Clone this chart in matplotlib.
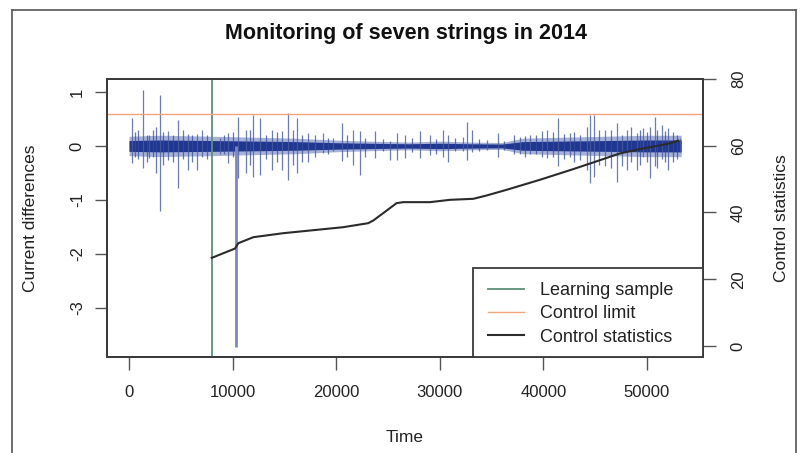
import matplotlib
matplotlib.use("Agg")
import matplotlib.pyplot as plt
from matplotlib.lines import Line2D
from matplotlib.patches import Rectangle

plt.rcParams['font.family'] = ['Liberation Sans', 'DejaVu Sans']

titleText = "Monitoring of seven strings in 2014"
xTicks = [0, 10000, 20000, 30000, 40000, 50000]
leftTicks = [-3, -2, -1, 0, 1]
rightTicks = [0, 20, 40, 60, 80]

# dense core of the current differences (time, half width)
bandTime = [0, 3000, 8000, 12000, 16000, 20000, 23000, 27000, 30000, 33000,
            36000, 38000, 42000, 46000, 50000, 53300]
bandHalf = [0.10, 0.11, 0.10, 0.09, 0.08, 0.06, 0.05, 0.04, 0.05, 0.04,
            0.035, 0.08, 0.09, 0.10, 0.11, 0.11]

# larger spikes
spikeTime = [260, 1320, 1960, 2990, 3790, 4760, 5690, 6560, 7040, 8780,
             9580, 10550, 11290, 12000, 12640, 13770, 14730, 15370, 16180, 17300,
             17950, 18750, 19710, 20520, 21640, 22290, 23740, 25190, 25830, 26630,
             28080, 29050, 30330, 30810, 32260, 32590, 33070, 34520, 35640, 37730,
             38700, 39830, 40310, 41430, 42560, 43520, 44170, 44490, 44900, 45930,
             47060, 47540, 48030, 48990, 49630, 50280, 50760, 51400, 52040, 53170]
spikeHigh = [0.52, 1.04, 0.20, 0.94, 0.27, 0.48, 0.23, 0.23, 0.30, 0.15,
             0.24, 0.54, 0.30, 0.57, 0.52, 0.30, 0.27, 0.61, 0.52, 0.24,
             0.20, 0.24, 0.15, 0.42, 0.30, 0.27, 0.27, 0.10, 0.24, 0.20,
             0.27, 0.20, 0.30, 0.20, 0.17, 0.45, 0.30, 0.11, 0.24, 0.17,
             0.20, 0.27, 0.30, 0.52, 0.24, 0.20, 0.36, 0.57, 0.57, 0.30,
             0.42, 0.20, 0.30, 0.24, 0.33, 0.36, 0.54, 0.39, 0.33, 0.15]
spikeLow = [-0.31, -0.41, -0.22, -1.20, -0.26, -0.78, -0.45, -0.45, -0.20, -0.15,
            -0.32, -0.60, -0.50, -0.57, -0.54, -0.45, -0.45, -0.63, -0.50, -0.30,
            -0.20, -0.13, -0.10, -0.27, -0.35, -0.54, -0.22, -0.26, -0.26, -0.22,
            -0.22, -0.17, -0.20, -0.29, -0.10, -0.26, -0.12, -0.08, -0.20, -0.15,
            -0.15, -0.20, -0.22, -0.38, -0.20, -0.26, -0.45, -0.68, -0.57, -0.38,
            -0.66, -0.38, -0.45, -0.45, -0.20, -0.60, -0.38, -0.25, -0.45, -0.12]

# smaller spikes inside the band
minorTime = [600, 900, 1700, 2300, 2600, 3300, 4200, 5200, 6100, 7500,
             9200, 10000, 11700, 13200, 14300, 15800, 16700, 19200, 21000, 22800,
             24500, 27300, 29600, 31500, 33800, 36200,
             37200, 38200, 39300, 40900, 42000, 43000, 45400, 46500, 48500, 49300,
             50000, 51000, 51700, 52500, 52900]
minorHigh = [0.25, 0.30, 0.20, 0.30, 0.35, 0.25, 0.20, 0.30, 0.20, 0.20,
             0.20, 0.25, 0.30, 0.20, 0.25, 0.30, 0.20, 0.15, 0.20, 0.15,
             0.12, 0.15, 0.12, 0.15, 0.12, 0.10,
             0.20, 0.18, 0.20, 0.25, 0.22, 0.25, 0.30, 0.30, 0.35, 0.30,
             0.25, 0.30, 0.28, 0.25, 0.20]
minorLow = [-0.20, -0.25, -0.30, -0.20, -0.50, -0.35, -0.30, -0.25, -0.30, -0.25,
            -0.15, -0.20, -0.35, -0.25, -0.30, -0.35, -0.30, -0.15, -0.20, -0.20,
            -0.10, -0.12, -0.15, -0.10, -0.10, -0.08,
            -0.15, -0.20, -0.15, -0.20, -0.25, -0.30, -0.35, -0.40, -0.30, -0.35,
            -0.30, -0.40, -0.30, -0.30, -0.25]

bigSpikeTime = 10330
bigSpikeLow = -3.72

learningEnd = 8000
controlLimit = 69.6

statTime = [7980, 10230, 10550, 12000, 14890, 18110, 20680, 23090, 23580, 25830,
            26470, 29050, 30980, 33230, 34520, 36450, 39660, 42880, 44810, 47380,
            49310, 51890, 53010]
statValue = [26.4, 29.2, 30.8, 32.6, 33.8, 34.8, 35.6, 36.8, 37.6, 42.8,
             43.1, 43.1, 43.8, 44.1, 45.1, 46.8, 49.8, 53.0, 55.0, 57.7,
             59.0, 60.5, 61.5]


def main():
    fig = plt.figure(figsize=(8, 4.53), dpi=100)
    ax = fig.add_axes([0.13375, 0.2119, 0.745, 0.6137])
    ax2 = ax.twinx()

    # current differences
    ax.fill_between(bandTime, [-1.8 * h for h in bandHalf], [1.8 * h for h in bandHalf],
                    color='#3b52a8', alpha=0.45, lw=0)
    ax.vlines(minorTime, minorLow, minorHigh, color='#34499c', lw=0.9, alpha=0.75)
    ax.vlines(spikeTime, spikeLow, spikeHigh, color='#4a5c9e', lw=0.9, alpha=0.8)
    ax.fill_between(bandTime, [-h for h in bandHalf], bandHalf, color='#1f3790', lw=0)
    ax.vlines([bigSpikeTime], [bigSpikeLow], [0], color='#7d88c0', lw=2.0)

    ax.set_xlim(-2124, 55405)
    ax.set_ylim(-3.91, 1.24)
    ax2.set_ylim(-3.3, 79.7)

    green = ax2.axvline(learningEnd, color='#5e9078', lw=1.3)
    orange = ax2.axhline(controlLimit, color='#f2a57a', lw=1.0)
    black, = ax2.plot(statTime, statValue, color='#2b2b2b', lw=1.5)

    ax.set_xticks(xTicks)
    ax.set_yticks(leftTicks)
    ax2.set_yticks(rightTicks)
    ax.set_yticklabels([str(v) for v in leftTicks], rotation=90, va='center')
    ax2.set_yticklabels([str(v) for v in rightTicks], rotation=90, va='center')

    for a in (ax, ax2):
        for s in a.spines.values():
            s.set_linewidth(1.3)
            s.set_color('#3a3a3a')
        a.tick_params(direction='out', length=9, width=1.0, color='#555555',
                      labelsize=12, labelcolor='#222222', pad=7)
    ax.tick_params(axis='x', pad=11)
    ax2.tick_params(axis='y', pad=11)

    ax.set_xlabel("Time", fontsize=12.5, color='#222222')
    ax.xaxis.set_label_coords(0.5, -0.262)
    ax.set_ylabel("Current differences", fontsize=12.5, color='#222222')
    ax.yaxis.set_label_coords(-0.116, 0.5)
    ax2.set_ylabel("Control statistics", fontsize=12.5, color='#222222')
    ax2.yaxis.set_label_coords(1.119, 0.5)

    fig.text(0.507, 0.925, titleText, ha='center', va='center', fontsize=15.5,
             fontweight='bold', color='#111111')

    # legend box drawn by hand, R style with wide right margin
    ax2.add_patch(Rectangle((0.614, 0), 0.386, 0.32, transform=ax2.transAxes,
                            facecolor='white', edgecolor='#3a3a3a', lw=1.3,
                            zorder=4, clip_on=False))
    leg = ax2.legend([green, orange, black],
                     ["Learning sample", "Control limit", "Control statistics"],
                     loc='upper left', bbox_to_anchor=(0.639, 0.270), borderaxespad=0,
                     fontsize=13, frameon=False, handlelength=2.0,
                     handletextpad=0.9, labelspacing=0.35, borderpad=0)
    leg.set_zorder(5)
    for t in leg.get_texts():
        t.set_color('#222222')

    frameColor = '#555555'
    fig.add_artist(Line2D([0.015, 0.015], [0, 0.978], transform=fig.transFigure,
                          color=frameColor, lw=1.2))
    fig.add_artist(Line2D([0.015, 0.995], [0.978, 0.978], transform=fig.transFigure,
                          color=frameColor, lw=1.2))
    fig.add_artist(Line2D([0.995, 0.995], [0, 0.978], transform=fig.transFigure,
                          color=frameColor, lw=1.2))

    fig.savefig("out.png", dpi=100)
    plt.close(fig)


if __name__ == "__main__":
    main()
